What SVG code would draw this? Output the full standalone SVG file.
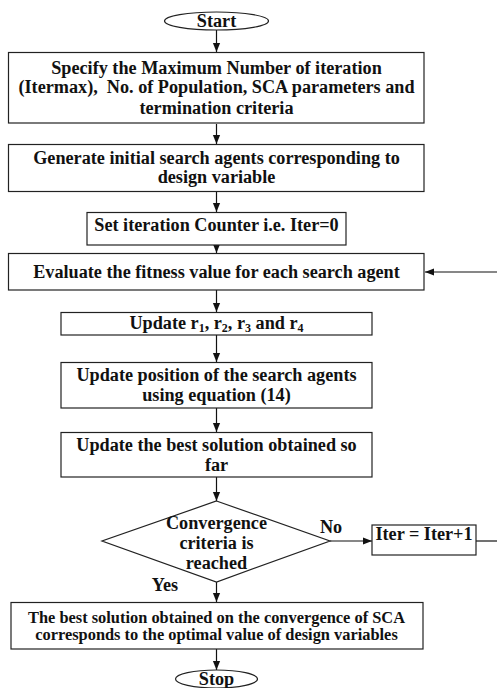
<svg xmlns="http://www.w3.org/2000/svg" width="497" height="688" viewBox="0 0 497 688">
<style>
.b{fill:#fff;stroke:#222;stroke-width:1.2}
.t{font-family:"Liberation Serif","Times New Roman",serif;font-weight:bold;font-size:18.2px;text-anchor:middle;fill:#111}
.s{font-size:16.4px}
.c{stroke:#111;stroke-width:1.2;fill:none}
</style>
<defs>
<marker id="a" viewBox="0 0 10 10" refX="10" refY="5" markerWidth="9" markerHeight="9" markerUnits="userSpaceOnUse" orient="auto">
<path d="M0,1 L10,5 L0,9 Z" fill="#111"/>
</marker>
</defs>
<rect width="497" height="688" fill="#fff"/>
<g id="connectors">
<line class="c" x1="216.5" y1="30" x2="216.5" y2="52" marker-end="url(#a)"/>
<line class="c" x1="216.5" y1="124" x2="216.5" y2="144" marker-end="url(#a)"/>
<line class="c" x1="216.5" y1="192" x2="216.5" y2="212" marker-end="url(#a)"/>
<line class="c" x1="216.5" y1="245" x2="216.5" y2="253" marker-end="url(#a)"/>
<line class="c" x1="497" y1="272" x2="425" y2="272" marker-end="url(#a)"/>
<line class="c" x1="216.5" y1="290" x2="216.5" y2="312" marker-end="url(#a)"/>
<line class="c" x1="216.5" y1="335" x2="216.5" y2="362" marker-end="url(#a)"/>
<line class="c" x1="216.5" y1="408" x2="216.5" y2="432" marker-end="url(#a)"/>
<line class="c" x1="216.5" y1="477" x2="216.5" y2="501" marker-end="url(#a)"/>
<line class="c" x1="330" y1="541" x2="372" y2="541" marker-end="url(#a)"/>
<line class="c" x1="476" y1="541" x2="497" y2="541"/>
<line class="c" x1="216.5" y1="582" x2="216.5" y2="602" marker-end="url(#a)"/>
<line class="c" x1="216.5" y1="649" x2="216.5" y2="670" marker-end="url(#a)"/>
<text class="t" x="331" y="533">No</text>
<text class="t" x="165" y="591">Yes</text>
</g>
<g id="start">
<ellipse class="b" cx="216.5" cy="21" rx="52" ry="9"/>
<text class="t" x="216.5" y="27">Start</text>
</g>
<g id="specify">
<rect class="b" x="8.5" y="52.5" width="415.5" height="70.5"/>
<text class="t" x="216.5" y="74">Specify the Maximum Number of iteration</text>
<text class="t" x="216.5" y="93" xml:space="preserve">(Itermax),  No. of Population, SCA parameters and</text>
<text class="t" x="216.5" y="114">termination criteria</text>
</g>
<g id="generate">
<rect class="b" x="8.5" y="144.5" width="415.5" height="47"/>
<text class="t" x="216.5" y="164">Generate initial search agents corresponding to</text>
<text class="t" x="216.5" y="183">design variable</text>
</g>
<g id="setiter">
<rect class="b" x="87" y="212.5" width="259" height="32.5"/>
<text class="t" x="216.5" y="231">Set iteration Counter i.e. Iter=0</text>
</g>
<g id="evaluate">
<rect class="b" x="8.5" y="253.5" width="415.5" height="36.5"/>
<text class="t" x="216.5" y="278">Evaluate the fitness value for each search agent</text>
</g>
<g id="updater">
<rect class="b" x="61" y="312.5" width="311" height="22.5"/>
<text class="t" x="216.5" y="329">Update r<tspan font-size="12" dy="3">1</tspan><tspan dy="-3">, r</tspan><tspan font-size="12" dy="3">2</tspan><tspan dy="-3">, r</tspan><tspan font-size="12" dy="3">3</tspan><tspan dy="-3"> and r</tspan><tspan font-size="12" dy="3">4</tspan></text>
</g>
<g id="updatepos">
<rect class="b" x="61" y="362.5" width="311" height="45.5"/>
<text class="t" x="216.5" y="381">Update position of the search agents</text>
<text class="t" x="216.5" y="401">using equation (14)</text>
</g>
<g id="updatebest">
<rect class="b" x="61" y="432.5" width="311" height="44.5"/>
<text class="t" x="216.5" y="451">Update the best solution obtained so</text>
<text class="t" x="216.5" y="471">far</text>
</g>
<g id="convergence">
<polygon class="b" points="216.5,501 330,541 216.5,582 102,541"/>
<text class="t" x="216.5" y="529">Convergence</text>
<text class="t" x="216.5" y="549">criteria is</text>
<text class="t" x="216.5" y="569">reached</text>
</g>
<g id="iterinc">
<rect class="b" x="372" y="525" width="104" height="30"/>
<text class="t" x="424" y="540">Iter = Iter+1</text>
</g>
<g id="best">
<rect class="b" x="11" y="602.5" width="412" height="46.5"/>
<text class="t s" x="216.5" y="622.5">The best solution obtained on the convergence of SCA</text>
<text class="t s" x="216.5" y="640">corresponds to the optimal value of design variables</text>
</g>
<g id="stop">
<ellipse class="b" cx="216.5" cy="679" rx="41" ry="9"/>
<text class="t" x="216.5" y="685">Stop</text>
</g>
</svg>
